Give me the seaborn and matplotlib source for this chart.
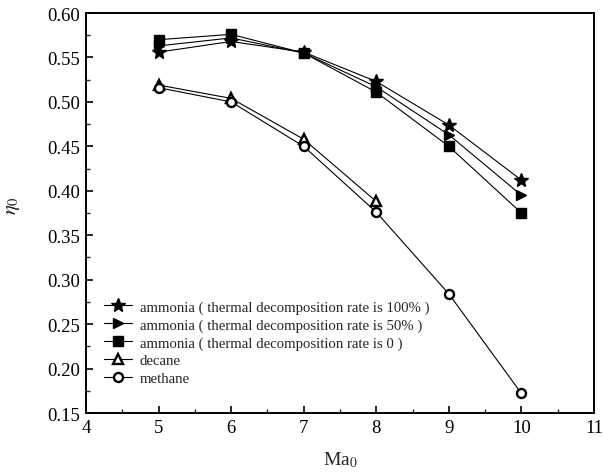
import matplotlib
matplotlib.use("Agg")
import matplotlib.pyplot as plt
import seaborn as sns
import pandas as pd
from matplotlib.ticker import MultipleLocator

sns.set_theme(style="ticks")
plt.rcParams['font.family'] = ['Liberation Serif', 'DejaVu Serif']
plt.rcParams['mathtext.fontset'] = 'stix'

mach = [5, 6, 7, 8, 9, 10]
ammonia_100 = [0.556, 0.568, 0.556, 0.523, 0.474, 0.412]
ammonia_50 = [0.563, 0.572, 0.555, 0.517, 0.463, 0.395]
ammonia_0 = [0.570, 0.576, 0.555, 0.511, 0.450, 0.375]
mach_decane = [5, 6, 7, 8]
decane = [0.519, 0.504, 0.458, 0.388]
methane = [0.516, 0.500, 0.450, 0.376, 0.284, 0.172]

labels = [
    "ammonia ( thermal decomposition rate is 100% )",
    "ammonia ( thermal decomposition rate is 50% )",
    "ammonia ( thermal decomposition rate is 0 )",
    "decane",
    "methane",
]

fig = plt.figure(figsize=(6.08, 4.77), dpi=100)
ax = fig.add_axes([0.1414, 0.132, 0.8356, 0.8386])

series = [
    (mach, ammonia_100, "*", 10.5, "black", 1.0),
    (mach, ammonia_50, ">", 7.5, "black", 1.0),
    (mach, ammonia_0, "s", 6.5, "black", 1.0),
    (mach_decane, decane, "^", 7, "white", 1.7),
    (mach, methane, "o", 6.5, "white", 1.7),
]
for (xs, ys, mk, ms, fc, mew), lab in zip(series, labels):
    df = pd.DataFrame({"x": xs, "y": ys})
    sns.lineplot(data=df, x="x", y="y", ax=ax, color="black", linewidth=0.8,
                 marker=mk, markersize=ms, markerfacecolor=fc,
                 markeredgecolor="black", markeredgewidth=mew, label=lab)

ax.set_xlim(4, 11)
ax.set_ylim(0.15, 0.60)
ax.xaxis.set_major_locator(MultipleLocator(1))
ax.xaxis.set_minor_locator(MultipleLocator(0.5))
ax.yaxis.set_major_locator(MultipleLocator(0.05))
ax.yaxis.set_minor_locator(MultipleLocator(0.025))
ax.yaxis.set_major_formatter(matplotlib.ticker.FormatStrFormatter('%.2f'))
ax.tick_params(which="major", direction="in", length=5, width=1.2, labelsize=13.5,
               colors="black", pad=4)
ax.tick_params(which="minor", direction="in", length=3, width=1.0)
ax.tick_params(top=False, right=False, which="both")
for s in ax.spines.values():
    s.set_linewidth(1.4)
    s.set_color("black")

ax.set_xlabel("Ma$_0$", fontsize=14)
ax.xaxis.set_label_coords(0.5, -0.09)
ax.set_ylabel(r"$\eta_0$", fontsize=15)
ax.yaxis.set_label_coords(-0.125, 0.52)

leg = ax.legend(loc="lower left", bbox_to_anchor=(0.035, 0.07), frameon=False,
                fontsize=10.6, handlelength=1.9, handletextpad=0.55,
                labelspacing=0.3, borderaxespad=0.0, borderpad=0.0)

fig.savefig("out.png", dpi=100)
